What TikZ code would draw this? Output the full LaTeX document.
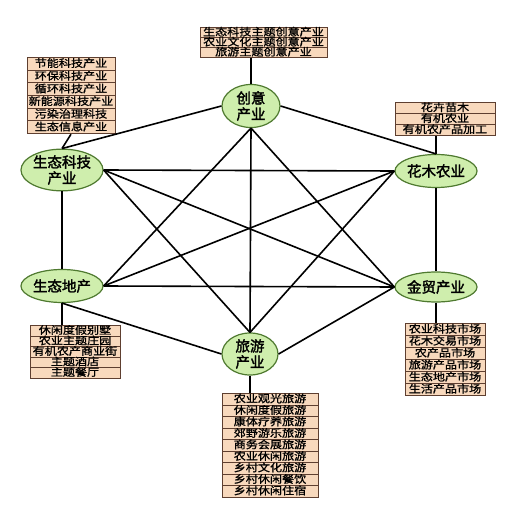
\documentclass[tikz,border=0pt]{standalone}
\usepackage{fontspec}
\newfontfamily\cjk[FakeStretch=1.15,FakeBold=1.2]{Noto Sans CJK SC}
\newfontfamily\cjkb[FakeBold=2]{Noto Sans CJK SC}
\usetikzlibrary{shapes.geometric}
\definecolor{peach}{HTML}{F8D9BD}
\definecolor{brownline}{HTML}{5E3F30}
\definecolor{leaf}{HTML}{CFEEAD}
\definecolor{leafline}{HTML}{4F7A30}
\begin{document}
\begin{tikzpicture}[x=1pt,y=-1pt,
  hub/.style={ellipse, draw=leafline, line width=1.2pt, fill=leaf, inner sep=0pt, font=\cjkb\fontsize{14.5}{16}\selectfont, align=center},
  rowbox/.style={draw=brownline, fill=peach, line width=1pt, inner sep=0pt, anchor=north, text height=8pt, text depth=1.6pt, font=\cjk\fontsize{10.5}{10.5}\selectfont},
  link/.style={line width=1.6pt, black}]
\useasboundingbox (0,0) rectangle (509,505);
% hubs
\node[hub, minimum width=58pt, minimum height=43pt] (cy) at (251,106) {创意\\产业};
\node[hub, minimum width=79pt, minimum height=34pt] (kj) at (62,170) {生态科技\\产业};
\node[hub, minimum width=80pt, minimum height=33pt] (hm) at (436,171) {花木农业};
\node[hub, minimum width=78pt, minimum height=33pt] (dc) at (62,286) {生态地产};
\node[hub, minimum width=76pt, minimum height=30pt] (jm) at (436,287) {金贸产业};
\node[hub, minimum width=56pt, minimum height=42pt] (ly) at (250,354) {旅游\\产业};
% row boxes
\foreach \t [count=\i] in {生态科技主题创意产业,农业文化主题创意产业,旅游主题创意产业}
  \node[rowbox, minimum width=127pt, minimum height=10pt] (a\i) at (263.5,{27+10*(\i-1)}) {\t};
\foreach \t [count=\i] in {节能科技产业,环保科技产业,循环科技产业,新能源科技产业,污染治理科技,生态信息产业}
  \node[rowbox, minimum width=88pt, minimum height=12.7pt] (b\i) at (71,{57+12.7*(\i-1)}) {\t};
\foreach \t [count=\i] in {花卉苗木,有机农业,有机农产品加工}
  \node[rowbox, minimum width=100pt, minimum height=11pt] (c\i) at (445,{102+11*(\i-1)}) {\t};
\foreach \t [count=\i] in {休闲度假别墅,农业主题庄园,有机农产商业街,主题酒店,主题餐厅}
  \node[rowbox, minimum width=90pt, minimum height=10.5pt] (d\i) at (75,{325+10.5*(\i-1)}) {\t};
\foreach \t [count=\i] in {农业科技市场,花木交易市场,农产品市场,旅游产品市场,生态地产市场,生活产品市场}
  \node[rowbox, minimum width=80pt, minimum height=12pt] (e\i) at (445,{323+12*(\i-1)}) {\t};
\foreach \t [count=\i] in {农业观光旅游,休闲度假旅游,康体疗养旅游,郊野游乐旅游,商务会展旅游,农业休闲旅游,乡村文化旅游,乡村休闲餐饮,乡村休闲住宿}
  \node[rowbox, minimum width=96pt, minimum height=11.5pt] (f\i) at (270,{393+11.5*(\i-1)}) {\t};
% box connectors
\draw[link] (a3.south -| cy.north) -- (cy.north);
\draw[link] (b6.south) -- (kj.north);
\draw[link] (c3.south -| hm.north) -- (hm.north);
\draw[link] (dc.south) -- (dc.south |- d1.north);
\draw[link] (jm.south) -- (jm.south |- e1.north);
\draw[link] (ly.south) -- (ly.south |- f1.north);
% hexagon
\draw[link] (cy.west) -- (kj.north);
\draw[link] (cy.east) -- (hm.north);
\draw[link] (kj.south) -- (dc.north);
\draw[link] (hm.south) -- (jm.north);
\draw[link] (dc.south) -- (ly.west);
\draw[link] (ly.east) -- (jm.west);
% diagonals
\draw[link] (cy.south) -- (dc.east);
\draw[link] (cy.south) -- (jm.west);
\draw[link] (cy.south) -- (ly.north);
\draw[link] (kj.east) -- (hm.west);
\draw[link] (kj.east) -- (jm.west);
\draw[link] (kj.east) -- (ly.north);
\draw[link] (dc.east) -- (hm.west);
\draw[link] (dc.east) -- (jm.west);
\draw[link] (hm.west) -- (ly.north);
\end{tikzpicture}
\end{document}
